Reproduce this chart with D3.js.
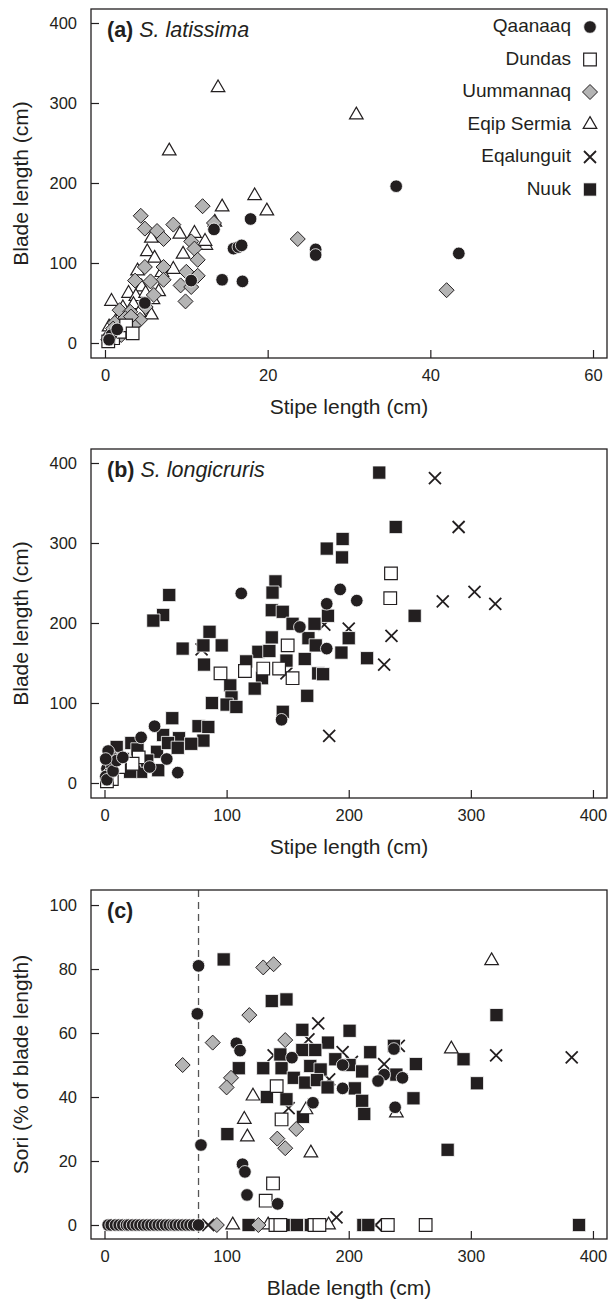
<!DOCTYPE html>
<html>
<head>
<meta charset="utf-8">
<script src="https://cdn.jsdelivr.net/npm/d3@7"></script>
<style>
  body { margin: 0; background: #fff; }
  svg text { font-family: "Liberation Sans", Arial, Helvetica, sans-serif; }
</style>
</head>
<body>
<svg id="chart" width="609" height="1300"></svg>
<script>
const sites = ["Qaanaaq", "Dundas", "Uummannaq", "Eqip Sermia", "Eqalunguit", "Nuuk"];

// (a) S. latissima  [stipe length, blade length]
const latQaanaaq = [[17.9,155],[13.4,142],[15.8,118],[16.4,120],[16.8,122],[25.9,117],[25.9,110],[10.6,78],[14.4,79],[16.9,77],[4.9,50],[35.8,196],[43.5,112],[0.8,10],[1.5,17],[0.5,4]];
const latDundas = [[1.0,6],[1.8,14],[2.6,22],[3.4,12],[0.4,2]];
const latUummannaq = [[12.0,171],[4.4,159],[4.9,143],[6.4,140],[7.2,130],[8.4,148],[10.6,127],[11.0,118],[11.4,104],[13.4,150],[23.7,130],[42.0,66],[4.9,95],[7.2,95],[7.2,79],[5.6,77],[3.7,78],[10.0,89],[11.4,84],[9.3,72],[10.6,70],[9.9,52],[1.8,41],[3.1,39],[4.3,29],[1.2,25],[2.2,20],[0.8,12],[1.5,8],[2.8,15],[0.4,4],[3.5,22],[2.5,31],[5.0,45],[6.0,60],[1.0,18],[2.0,10],[3.2,33],[0.6,9]];
const latEqip = [[13.9,319],[30.9,285],[7.9,240],[18.4,184],[14.4,170],[19.9,165],[13.5,151],[11.0,137],[12.4,122],[9.2,136],[5.7,131],[5.2,114],[6.1,106],[8.4,92],[9.6,111],[12.3,127],[0.8,52],[2.9,62],[5.7,35],[5.9,54],[4.5,70],[3.8,58],[1.5,30],[2.2,44],[3.5,48],[0.5,20],[1.2,13],[3.0,25],[4.2,38],[6.6,64],[2.0,35],[0.6,6],[1.8,22],[7.0,88],[4.0,90],[5.0,62]];

// (b) S. longicruris  [stipe length, blade length]
const lonQaanaaq = [[112,237],[193,242],[206.6,228],[182,224],[160,195],[182,168],[145,79],[41,71],[30,57],[51,30],[37,20],[60,13],[5,35],[8,30],[3,25],[2,18],[4,12],[6,22],[1,8],[2,4],[7,15],[10,28],[15,32],[3,40],[1,30]];
const lonDundas = [[234.6,262],[234,231],[150,172],[95,137],[115,140],[130,143],[143,143],[154,131],[28,32],[23,24],[12,20],[4,10],[6,5],[2,2]];
const lonEqalunguit = [[270.6,381],[290,320],[277,227],[303,239],[320,224],[180,198],[200,193],[79.5,167],[235,184],[229,148],[184,59],[149,137]];
const lonNuuk = [[225,388],[238.5,320],[182,293],[195,305],[194.5,282],[140,252],[137.6,238],[53,235],[48,210],[40,203],[137,216],[146,214],[254,209],[154,199],[172,199],[183,209],[86,189],[64,168],[81,172],[96,172],[81.5,148],[137,182],[126,164],[135,165],[167,181],[173,172],[200,181],[194,163],[215,156],[164,155],[175,137],[179,136],[149,153],[116,152],[129,131],[103,122],[123,118],[104,107],[88,100],[100,98],[108,95],[166,109],[146,89],[55.5,81],[77,71],[85,70],[61,56],[81,53],[71,49],[48,60],[22,50],[10,45],[43,39],[52,50],[44,16],[30,14],[21,14],[15,30],[35,28],[27,42],[60,44],[8,22]];

// (c) sori  [blade length, % of blade length]
const soriQaanaaq = [[77,81],[76,66],[108,56.8],[111,54.5],[237,55],[153.5,52.3],[195,50],[229,47],[224,45],[244,46],[195,42.7],[170.7,38.2],[238,36.8],[79,25],[113,19],[115,16.6],[116.7,9.4],[141.8,6.6],
  [3,0],[5.5,0],[9,0],[12,0],[15,0],[18,0],[20,0],[23,0],[26,0],[29,0],[32,0],[35,0],[38,0],[41,0],[44,0],[47,0],[50,0],[53,0],[56,0],[58,0],[61,0],[64,0],[67,0],[70,0],[73,0],[77,0]];
const soriDundas = [[141,43.4],[145,33],[138,13],[132,7.6],[140,0],[144,0],[172,0],[176,0],[232,0],[263,0]];
const soriUummannaq = [[130,80.5],[138.5,81.5],[118.6,65.6],[148,57.8],[88.6,57],[64,50],[103.6,46],[100,43],[141.5,27],[148,24],[157,30],[92,0],[126,0]];
const soriEqip = [[317,82.6],[284,55],[121.6,40.3],[165,36],[239,35],[114.5,33],[117,27.5],[169,22.5],[105,0],[134,0],[183.5,0]];
const soriEqalunguit = [[175,63],[167,58],[241,56],[195,54],[138.5,53],[202.6,51],[229,50.3],[320.7,53],[382.6,52.4],[184,45.5],[150.8,36.5],[190,2.4],[85,0],[222,0]];
const soriNuuk = [[97.6,83],[137,70],[149,70.5],[321,65.6],[162,61],[200.7,60.7],[200.7,50],[183,57],[237,56],[217.6,54],[162,54.7],[172.6,54.7],[294,51.8],[144,53.3],[189,51.8],[255,50.3],[110,49],[130,49],[145,49],[168.5,49.7],[177,48.6],[211,48],[239,47],[155,46],[164.4,44.5],[174,45.3],[182.7,43],[205,42.7],[305,44.3],[133,40],[149,39.3],[211,38.8],[253,39.6],[212.7,34.7],[162.5,33.8],[281,23.5],[100.6,28.4],[118,0],[151,0],[157.6,0],[169,0],[212,0],[216,0],[388.6,0]];
const soriThreshold = 77;

const stipeTicksA = [0, 20, 40, 60];
const lengthTicks = [0, 100, 200, 300, 400];
const soriTicks = [0, 20, 40, 60, 80, 100];

const ink = "#231f20";
const svg = d3.select("#chart");
const frame = {left: 91, right: 607, height: 349};

const style = {
  "Qaanaaq":     {path: d3.symbol(d3.symbolCircle, 125)(), fill: ink, stroke: "#fff", sw: 0.8},
  "Dundas":      {path: d3.symbol(d3.symbolSquare, 160)(), fill: "#fff", stroke: ink, sw: 1.2},
  "Uummannaq":   {path: "M0,-7.5L7.5,0L0,7.5L-7.5,0Z", fill: "#b4b4b4", stroke: ink, sw: 1},
  "Eqip Sermia": {path: d3.symbol(d3.symbolTriangle, 80)(), fill: "#fff", stroke: ink, sw: 1.2},
  "Eqalunguit":  {path: "M-6,-6L6,6M-6,6L6,-6", fill: "none", stroke: ink, sw: 1.8},
  "Nuuk":        {path: d3.symbol(d3.symbolSquare, 175)(), fill: ink, stroke: "#fff", sw: 0.8}
};
const drawOrder = ["Eqalunguit", "Nuuk", "Eqip Sermia", "Uummannaq", "Dundas", "Qaanaaq"];

const panels = [
  {top: 9, label: "(a)", species: "S. latissima", xDomain: [-1.72, 61.72], yDomain: [-18.75, 417.5],
   xTicks: stipeTicksA, yTicks: lengthTicks, xTitle: "Stipe length (cm)", yTitle: "Blade length (cm)",
   series: {"Qaanaaq": latQaanaaq, "Dundas": latDundas, "Uummannaq": latUummannaq, "Eqip Sermia": latEqip},
   legend: true},
  {top: 449, label: "(b)", species: "S. longicruris", xDomain: [-11.05, 411.5], yDomain: [-18.75, 417.5],
   xTicks: lengthTicks, yTicks: lengthTicks, xTitle: "Stipe length (cm)", yTitle: "Blade length (cm)",
   series: {"Qaanaaq": lonQaanaaq, "Dundas": lonDundas, "Eqalunguit": lonEqalunguit, "Nuuk": lonNuuk}},
  {top: 890, label: "(c)", species: "", xDomain: [-11.05, 411.5], yDomain: [-4.375, 104.7],
   xTicks: lengthTicks, yTicks: soriTicks, xTitle: "Blade length (cm)", yTitle: "Sori (% of blade length)",
   series: {"Qaanaaq": soriQaanaaq, "Dundas": soriDundas, "Uummannaq": soriUummannaq, "Eqip Sermia": soriEqip,
            "Eqalunguit": soriEqalunguit, "Nuuk": soriNuuk},
   threshold: soriThreshold}
];

function drawPanel(p) {
  const g = svg.append("g");
  const bottom = p.top + frame.height;
  const x = d3.scaleLinear().domain(p.xDomain).range([frame.left, frame.right]);
  const y = d3.scaleLinear().domain(p.yDomain).range([bottom, p.top]);

  if (p.threshold !== undefined) {
    g.append("line")
      .attr("x1", x(p.threshold)).attr("x2", x(p.threshold))
      .attr("y1", p.top).attr("y2", bottom)
      .attr("stroke", "#555").attr("stroke-width", 1.3)
      .attr("stroke-dasharray", "7,5");
  }

  drawOrder.forEach(site => {
    const pts = p.series[site];
    if (!pts) return;
    const s = style[site];
    g.append("g").selectAll("path")
      .data(pts)
      .join("path")
      .attr("d", s.path)
      .attr("transform", d => `translate(${x(d[0])},${y(d[1])})`)
      .attr("fill", s.fill)
      .attr("stroke", s.stroke)
      .attr("stroke-width", s.sw);
  });

  g.append("rect")
    .attr("x", frame.left).attr("y", p.top)
    .attr("width", frame.right - frame.left).attr("height", frame.height)
    .attr("fill", "none").attr("stroke", ink).attr("stroke-width", 1.3);

  const xAxisG = g.append("g")
    .attr("transform", `translate(0,${bottom})`)
    .call(d3.axisBottom(x).tickValues(p.xTicks).tickSize(-8).tickPadding(11));
  const yAxisG = g.append("g")
    .attr("transform", `translate(${frame.left},0)`)
    .call(d3.axisLeft(y).tickValues(p.yTicks).tickSize(-8).tickPadding(14));
  [xAxisG, yAxisG].forEach(a => {
    a.select(".domain").remove();
    a.attr("font-size", 16.5).attr("font-family", null);
    a.selectAll("line").attr("stroke", ink).attr("stroke-width", 1.2);
    a.selectAll("text").attr("fill", ink);
  });

  g.append("text")
    .attr("x", (frame.left + frame.right) / 2).attr("y", bottom + 50)
    .attr("text-anchor", "middle").attr("dominant-baseline", "middle")
    .attr("font-size", 21).attr("fill", ink)
    .text(p.xTitle);

  g.append("text")
    .attr("transform", `translate(22,${p.top + frame.height / 2}) rotate(-90)`)
    .attr("text-anchor", "middle").attr("dominant-baseline", "middle")
    .attr("font-size", 21).attr("fill", ink)
    .text(p.yTitle);

  const lab = g.append("text")
    .attr("x", 107).attr("y", p.top + 22)
    .attr("dominant-baseline", "middle")
    .attr("font-size", 21.5).attr("fill", ink);
  lab.append("tspan").attr("font-weight", "bold").text(p.label);
  if (p.species) lab.append("tspan").attr("font-style", "italic").text(" " + p.species);

  if (p.legend) {
    const leg = g.append("g");
    sites.forEach((site, i) => {
      const ly = p.top + 18 + i * 32.5;
      const s = style[site];
      leg.append("text")
        .attr("x", 571).attr("y", ly)
        .attr("text-anchor", "end").attr("dominant-baseline", "middle")
        .attr("font-size", 19).attr("fill", ink)
        .text(site);
      leg.append("path")
        .attr("d", s.path)
        .attr("transform", `translate(590,${ly})`)
        .attr("fill", s.fill).attr("stroke", s.stroke).attr("stroke-width", s.sw);
    });
  }
}

panels.forEach(drawPanel);
</script>
</body>
</html>
